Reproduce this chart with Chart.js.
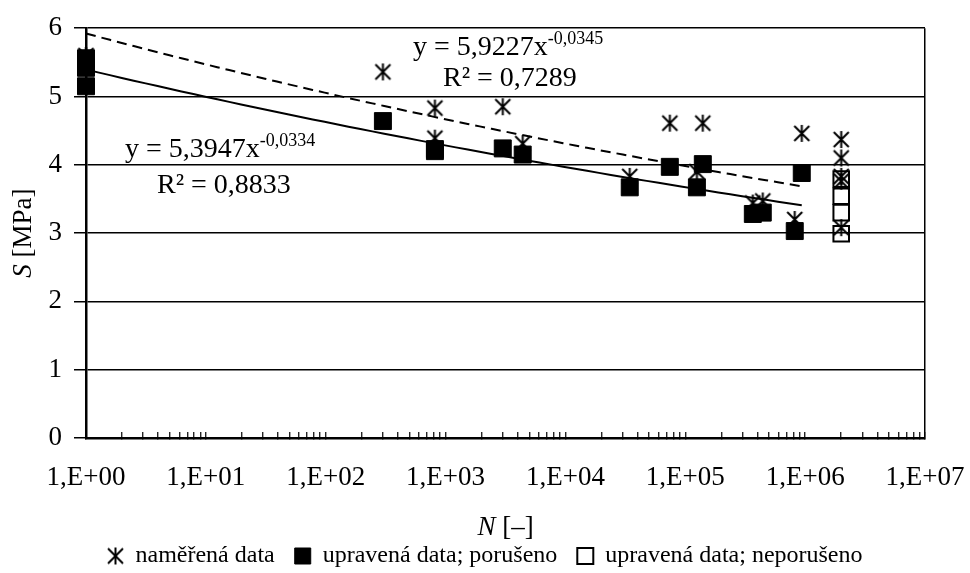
<!DOCTYPE html>
<html>
<head>
<meta charset="utf-8">
<script src="https://cdn.jsdelivr.net/npm/chart.js@4.4.1/dist/chart.umd.min.js"></script>
<style>
  html, body { margin: 0; padding: 0; background: #fff; }
  #wrap { width: 970px; height: 573px; }
</style>
</head>
<body>
<div id="wrap"><canvas id="chart"></canvas></div>
<script>
// naměřená data
const measuredN = [1, 1, 1, 300, 815, 815, 3000, 4400, 34400, 74300, 125000, 140000, 366000, 443000, 819000, 937000,
                   2e6, 2e6, 2e6, 2e6, 2e6];
const measuredS = [5.60, 5.45, 5.15, 5.36, 4.83, 4.39, 4.85, 4.31, 3.83, 4.61, 3.90, 4.61, 3.44, 3.47, 3.20, 4.46,
                   4.37, 4.10, 3.83, 3.76, 3.08];

// upravená data; porušeno
const brokenN = [1, 1, 1, 300, 815, 815, 3000, 4400, 34400, 74300, 125000, 140000, 366000, 443000, 819000, 937000];
const brokenS = [5.56, 5.42, 5.15, 4.64, 4.23, 4.20, 4.24, 4.15, 3.67, 3.97, 3.67, 4.01, 3.28, 3.30, 3.03, 3.88];

// upravená data; neporušeno
const intactN = [2e6, 2e6, 2e6, 2e6];
const intactS = [3.79, 3.54, 3.30, 2.99];

// mocninné spojnice trendu y = a * x^b (porušeno, naměřená)
const trendA = [5.3947, 5.9227];
const trendB = [-0.0334, -0.0345];
const trendR2 = [0.8833, 0.7289];
const trendRange = [1, 937000];

const xDecades = [1, 1e1, 1e2, 1e3, 1e4, 1e5, 1e6, 1e7];
const xTickLabels = ['1,E+00', '1,E+01', '1,E+02', '1,E+03', '1,E+04', '1,E+05', '1,E+06', '1,E+07'];
const seriesNames = ['naměřená data', 'upravená data; porušeno', 'upravená data; neporušeno'];

const SERIF = "'Liberation Serif', 'Times New Roman', serif";

function toPoints(xs, ys) {
  return xs.map((x, i) => ({ x: x, y: ys[i] }));
}

function trendPoints(a, b) {
  const pts = [];
  const lo = Math.log10(trendRange[0]);
  const hi = Math.log10(trendRange[1]);
  for (let i = 0; i <= 60; i++) {
    const x = Math.pow(10, lo + (hi - lo) * i / 60);
    pts.push({ x: x, y: a * Math.pow(x, b) });
  }
  return pts;
}

function czNum(v) {
  return v.toFixed(4).replace('.', ',');
}

// hvězdička: křížek + svislá čára
function starMarker() {
  const c = document.createElement('canvas');
  c.width = 19;
  c.height = 19;
  const g = c.getContext('2d');
  g.strokeStyle = '#000';
  g.lineWidth = 2;
  g.beginPath();
  g.moveTo(2, 2); g.lineTo(17, 17);
  g.moveTo(17, 2); g.lineTo(2, 17);
  g.moveTo(9.5, 1); g.lineTo(9.5, 18);
  g.stroke();
  return c;
}

// text složený z částí (kurzíva, horní index)
function drawRuns(ctx, runs, x, y, align) {
  let total = 0;
  runs.forEach(r => { ctx.font = r.font; r.w = ctx.measureText(r.text).width; total += r.w; });
  let cx = align === 'center' ? x - total / 2 : x;
  runs.forEach(r => {
    ctx.font = r.font;
    ctx.fillText(r.text, cx, y + (r.dy || 0));
    cx += r.w;
  });
}

const textPlugin = {
  id: 'textPlugin',
  afterDraw(chart) {
    const ctx = chart.ctx;
    const area = chart.chartArea;
    ctx.save();
    ctx.fillStyle = '#000';
    ctx.textBaseline = 'middle';
    ctx.textAlign = 'left';

    const big = '28px ' + SERIF;
    const sup = '18px ' + SERIF;
    // rovnice spojnic trendu
    const eqPos = [
      { x: area.left + 39, y: area.top + 121, rx: area.left + 71, ry: area.top + 157 },
      { x: area.left + 327, y: area.top + 19, rx: area.left + 357, ry: area.top + 50 }
    ];
    eqPos.forEach((p, i) => {
      drawRuns(ctx, [
        { text: 'y = ' + czNum(trendA[i]) + 'x', font: big },
        { text: czNum(trendB[i]), font: sup, dy: -8 }
      ], p.x, p.y, 'left');
      drawRuns(ctx, [{ text: 'R² = ' + czNum(trendR2[i]), font: big }], p.rx, p.ry, 'left');
    });

    // popisy os
    const axisFont = '27px ' + SERIF;
    const axisItalic = 'italic 27px ' + SERIF;
    drawRuns(ctx, [
      { text: 'N', font: axisItalic },
      { text: ' [–]', font: axisFont }
    ], (area.left + area.right) / 2, area.bottom + 90, 'center');

    ctx.translate(24, (area.top + area.bottom) / 2);
    ctx.rotate(-Math.PI / 2);
    drawRuns(ctx, [
      { text: 'S', font: axisItalic },
      { text: ' [MPa]', font: axisFont }
    ], 0, 0, 'center');
    ctx.restore();
  }
};

const star = starMarker();

new Chart(document.getElementById('chart'), {
  type: 'scatter',
  data: {
    datasets: [
      {
        label: seriesNames[0],
        data: toPoints(measuredN, measuredS),
        pointStyle: star,
        borderColor: '#000',
        backgroundColor: '#000',
        order: 3
      },
      {
        label: seriesNames[1],
        data: toPoints(brokenN, brokenS),
        pointStyle: 'rect',
        pointRadius: 12,
        borderWidth: 1,
        borderColor: '#000',
        backgroundColor: '#000',
        order: 1
      },
      {
        label: seriesNames[2],
        data: toPoints(intactN, intactS),
        pointStyle: 'rect',
        pointRadius: 11,
        borderWidth: 2,
        borderColor: '#000',
        backgroundColor: 'rgba(0,0,0,0)',
        order: 2
      },
      {
        label: 'trend porušeno',
        data: trendPoints(trendA[0], trendB[0]),
        showLine: true,
        pointRadius: 0,
        borderColor: '#000',
        borderWidth: 2,
        order: 4
      },
      {
        label: 'trend naměřená',
        data: trendPoints(trendA[1], trendB[1]),
        showLine: true,
        pointRadius: 0,
        borderColor: '#000',
        borderWidth: 2,
        borderDash: [10, 6],
        order: 5
      }
    ]
  },
  options: {
    responsive: true,
    maintainAspectRatio: false,
    animation: false,
    clip: false,
    layout: { padding: { left: 45, right: 45, top: 26, bottom: -5 } },
    scales: {
      x: {
        type: 'logarithmic',
        min: 1,
        max: 1e7,
        afterBuildTicks: (scale) => {
          const ticks = [];
          for (let k = 0; k < 7; k++) {
            ticks.push({ value: xDecades[k] });
            for (let m = 2; m <= 9; m++) ticks.push({ value: m * xDecades[k] });
          }
          ticks.push({ value: xDecades[7] });
          scale.ticks = ticks;
        },
        afterFit: (scale) => {
          scale.height = scale.chart.height - 438 - scale.chart.legend.height + 5;
          scale.paddingLeft = 0;
          scale.paddingRight = 0;
        },
        ticks: {
          autoSkip: false,
          maxRotation: 0,
          minRotation: 0,
          padding: 30,
          color: '#000',
          font: { family: SERIF, size: 27 },
          callback: (value) => {
            const i = xDecades.indexOf(value);
            return i >= 0 ? xTickLabels[i] : '';
          }
        },
        grid: {
          drawOnChartArea: true,
          color: (c) => (c.tick && c.tick.value === 1e7 ? '#000' : 'rgba(0,0,0,0)'),
          lineWidth: 1.5,
          tickColor: '#000',
          tickLength: -6,
          tickWidth: 1.2
        },
        border: { color: '#000', width: 2.5 }
      },
      y: {
        min: 0,
        max: 6,
        afterFit: (scale) => { scale.width = 41; },
        ticks: {
          stepSize: 1,
          padding: 12,
          color: '#000',
          font: { family: SERIF, size: 27 }
        },
        grid: {
          color: '#000',
          lineWidth: 1.5,
          tickColor: '#000',
          tickLength: 12
        },
        border: { color: '#000', width: 2.5 }
      }
    },
    plugins: {
      legend: {
        position: 'bottom',
        labels: {
          usePointStyle: true,
          boxWidth: 16,
          boxHeight: 16,
          padding: 20,
          color: '#000',
          font: { family: SERIF, size: 24 },
          filter: (item) => item.datasetIndex < 3,
          sort: (a, b) => a.datasetIndex - b.datasetIndex
        }
      },
      tooltip: { enabled: false }
    }
  },
  plugins: [textPlugin]
});
</script>
</body>
</html>
